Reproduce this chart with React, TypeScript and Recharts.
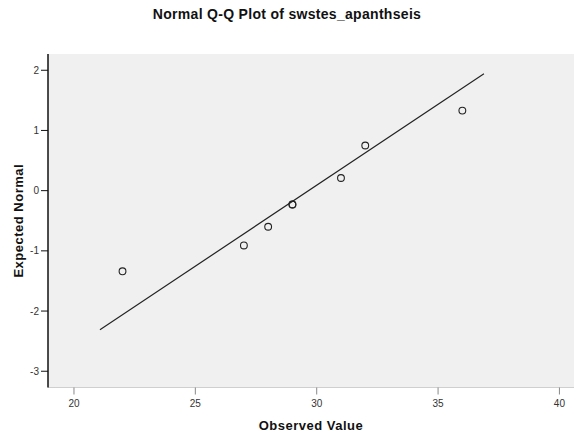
import React from "react";
import { ComposedChart, Scatter, XAxis, YAxis, CartesianGrid } from "recharts";

const observedValues = [22, 27, 28, 29, 29, 31, 32, 36];
const expectedNormal = [-1.34, -0.91, -0.6, -0.23, -0.23, 0.21, 0.75, 1.33];
const lineX = [21.07, 36.89];
const lineY = [-2.31, 1.94];
const xTicks = [20, 25, 30, 35, 40];
const yTicks = [-3, -2, -1, 0, 1, 2];

const points = observedValues.map((x, i) => ({ x, y: expectedNormal[i] }));
const lineData = lineX.map((x, i) => ({ x, y: lineY[i] }));

const font = "'Liberation Sans', Arial, sans-serif";

const OpenCircle = (props: any) => {
  const { cx, cy } = props;
  if (cx == null || cy == null) return null;
  return <circle cx={cx} cy={cy} r={3.4} fill="none" stroke="#222" strokeWidth={1.1} />;
};

export default function App() {
  return (
    <div style={{ position: "absolute", left: 0, top: 0, width: 574, height: 434, background: "#fff", fontFamily: font }}>
      <div
        style={{
          position: "absolute",
          top: 6,
          left: 0,
          width: 574,
          textAlign: "center",
          fontSize: 14,
          fontWeight: 600,
          color: "#111",
          letterSpacing: 0.3,
        }}
      >
        Normal Q-Q Plot of swstes_apanthseis
      </div>
      <ComposedChart width={574} height={434} margin={{ top: 54, right: 0, bottom: 0, left: 0 }}>
        <CartesianGrid horizontal={false} vertical={false} fill="#f0f0f0" stroke="#d8d8d8" />
        <XAxis
          type="number"
          dataKey="x"
          domain={[18.93, 40.6]}
          ticks={xTicks}
          allowDataOverflow
          height={46.5}
          axisLine={{ stroke: "#cfcfcf" }}
          tickLine={{ stroke: "#888" }}
          tickSize={7}
          tick={{ fontSize: 10, fill: "#333", fontFamily: font, dy: 3 }}
          label={{
            value: "Observed Value",
            position: "insideBottom",
            offset: 4,
            style: { fontSize: 13, fontWeight: "bold", fill: "#111", fontFamily: font, letterSpacing: 0.5 },
          }}
        />
        <YAxis
          type="number"
          dataKey="y"
          domain={[-3.27, 2.27]}
          ticks={yTicks}
          allowDataOverflow
          width={48}
          axisLine={{ stroke: "#111", strokeWidth: 1.5 }}
          tickLine={{ stroke: "#111" }}
          tickSize={7}
          tick={{ fontSize: 10, fill: "#333", fontFamily: font }}
          label={{
            value: "Expected Normal",
            angle: -90,
            position: "insideLeft",
            offset: 18,
            style: { fontSize: 13, fontWeight: "bold", fill: "#111", fontFamily: font, letterSpacing: 0.5, textAnchor: "middle" },
          }}
        />
        <Scatter
          data={lineData}
          line={{ stroke: "#222", strokeWidth: 1.2 }}
          shape={() => null}
          isAnimationActive={false}
        />
        <Scatter data={points} shape={OpenCircle} isAnimationActive={false} />
      </ComposedChart>
    </div>
  );
}
